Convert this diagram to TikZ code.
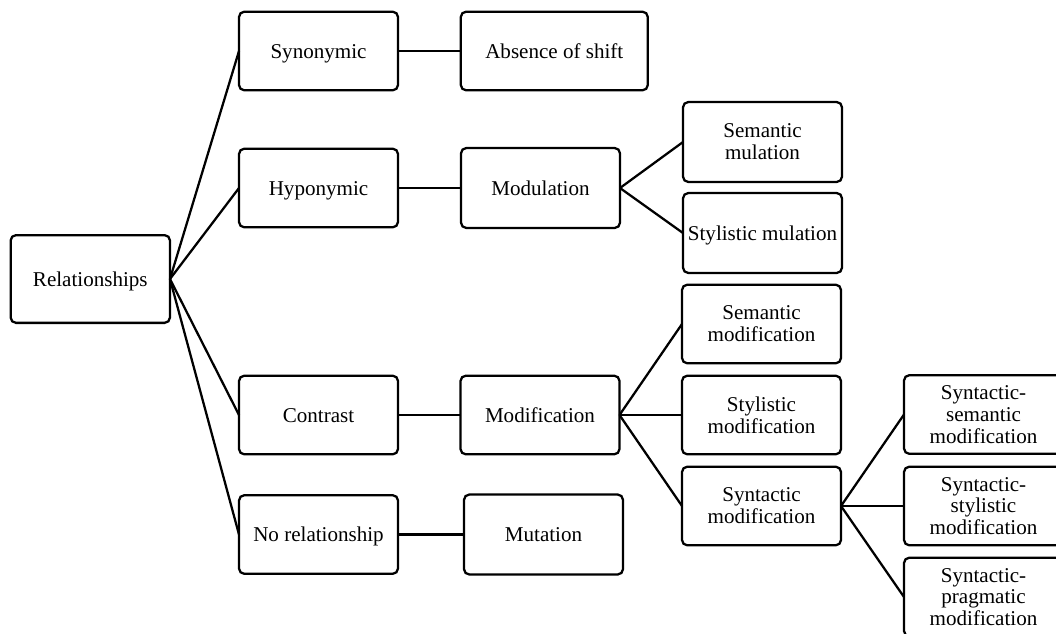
\documentclass[tikz,border=0pt]{standalone}
\usepackage{fontspec}
\setmainfont{Liberation Serif}
\begin{document}
\begin{tikzpicture}[x=0.75pt,y=-0.75pt,
  box/.style={draw=black, line width=1.7pt, rounded corners=4pt, fill=white,
    minimum width=119.25pt, minimum height=59pt, inner sep=0pt, outer sep=0pt,
    font=\fontsize{15.8}{16.4}\selectfont},
  oneline/.style={text height=12.5pt, text depth=2pt},
  multi/.style={align=center},
  link/.style={draw=black, line width=1.7pt}]
\useasboundingbox (0,0) rectangle (1056,633);

% first level
\node[box, oneline, minimum width=119.5pt, minimum height=65.8pt] (rel) at (90.3,279) {Relationships};

% second level
\node[box, oneline] (syn)   at (318.5,51)    {Synonymic};
\node[box, oneline] (hypo)  at (318.5,188)   {Hyponymic};
\node[box, oneline] (con)   at (318.5,415)   {Contrast};
\node[box, oneline] (norel) at (318.5,534.5) {No relationship};

% third level
\node[box, oneline, minimum width=140.25pt] (abs) at (554.3,51) {Absence of shift};
\node[box, oneline, minimum height=60pt] (modu) at (540.5,188) {Modulation};
\node[box, oneline] (modi) at (540,415) {Modification};
\node[box, oneline, minimum height=60pt] (mut) at (543.5,534.5) {Mutation};

% fourth level
\node[box, multi, minimum height=60pt] (semmul) at (762.5,142) {Semantic\\mulation};
\node[box, oneline, minimum height=60pt] (stymul) at (762.5,233) {Stylistic mulation};
\node[box, multi] (semmod) at (761.5,324) {Semantic\\modification};
\node[box, multi] (stymod) at (761.5,415) {Stylistic\\modification};
\node[box, multi] (synmod) at (761.5,506) {Syntactic\\modification};

% fifth level
\node[box, multi] (ss)  at (983.5,414.5) {Syntactic-\\semantic\\modification};
\node[box, multi] (sst) at (983.5,506)   {Syntactic-\\stylistic\\modification};
\node[box, multi] (sp)  at (983.5,597)   {Syntactic-\\pragmatic\\modification};

% connectors
\foreach \t in {syn,hypo,con,norel} \draw[link] (rel.east) -- (\t.west);
\draw[link] (syn.east) -- (abs.west);
\draw[link] (hypo.east) -- (modu.west);
\draw[link] (con.east) -- (modi.west);
\draw[link] (norel.east) -- (mut.west);
\foreach \t in {semmul,stymul} \draw[link] (modu.east) -- (\t.west);
\foreach \t in {semmod,stymod,synmod} \draw[link] (modi.east) -- (\t.west);
\foreach \t in {ss,sst,sp} \draw[link] (synmod.east) -- (\t.west);
\end{tikzpicture}
\end{document}
